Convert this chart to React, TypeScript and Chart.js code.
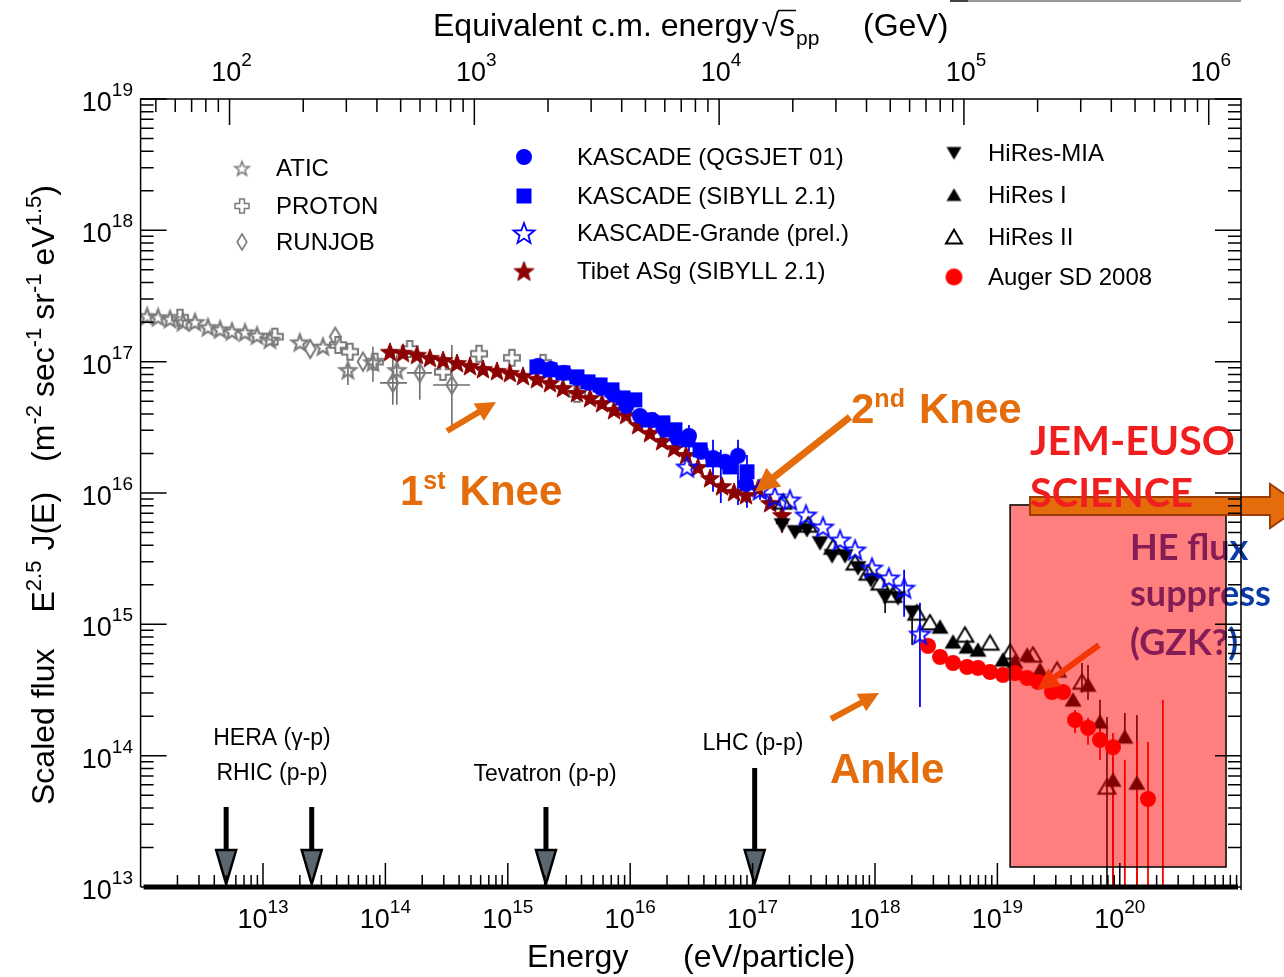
import React, { useEffect, useRef } from "react";
import { Chart, registerables } from "chart.js";

Chart.register(...registerables);

const W = 1284;
const H = 977;

// ---------- axis settings ----------
const energyMin = 1e12;
const energyMax = 9.78e20;
const fluxMin = 1e13;
const fluxMax = 1e19;
const protonMassGeV = 0.938272;
const bottomTickExps = [13, 14, 15, 16, 17, 18, 19, 20];
const leftTickExps = [13, 14, 15, 16, 17, 18, 19];
const topTickExps = [2, 3, 4, 5, 6];

// ---------- data (E in eV, scaled flux E^2.5 J(E)) ----------
const aticE = [1.13e12, 1.39e12, 1.74e12, 2.22e12, 2.78e12, 3.55e12, 4.46e12, 5.58e12, 7.13e12, 8.94e12, 1.14e13, 2.0e13, 3.09e13, 4.94e13, 7.91e13, 1.24e14];
const aticF = [2.23e17, 2.19e17, 2.12e17, 2.01e17, 2.01e17, 1.84e17, 1.77e17, 1.71e17, 1.68e17, 1.59e17, 1.48e17, 1.41e17, 1.31e17, 8.67e16, 9.95e16, 8.67e16];
const aticErr = [[4.94e13, 6.65e16, 9.47e16], [7.91e13, 7.02e16, 1.3e17], [1.24e14, 4.69e16, 1.13e17]];

const protonE = [2.1e12, 1.25e13, 4.1e13, 5.14e13, 8.2e13, 1.58e14, 2.95e14, 5.82e14, 1.08e15, 1.94e15, 3.68e15];
const protonF = [2.16e17, 1.55e17, 1.34e17, 1.19e17, 1.0e17, 1.25e17, 8.36e16, 1.15e17, 1.07e17, 9.8e16, 5.69e16];

const runjobE = [2.43e13, 3.89e13, 6.56e13, 1.15e14, 1.91e14, 3.49e14];
const runjobF = [1.25e17, 1.55e17, 1.0e17, 6.89e16, 8.22e16, 6.65e16];
const runjobErr = [[1.15e14, 4.69e16, 1.13e17], [1.91e14, 5.12e16, 1.07e17], [3.49e14, 3.03e16, 1.34e17]];
const runjobXErr = [[6.89e16, 9.04e13, 1.5e14], [8.22e16, 1.5e14, 2.4e14], [6.65e16, 2.45e14, 4.91e14]];

const tibetE = [1.09e14, 1.39e14, 1.81e14, 2.31e14, 2.96e14, 3.85e14, 4.91e14, 6.27e14, 8.16e14, 1.04e15, 1.33e15, 1.73e15, 2.21e15, 2.82e15, 3.67e15, 4.7e15, 5.89e15, 7.38e15, 9.25e15, 1.16e16, 1.45e16, 1.82e16, 2.28e16, 2.86e16, 3.58e16, 4.49e16, 5.62e16, 7.05e16, 8.83e16, 1.11e17, 1.39e17, 1.74e17];
const tibetF = [1.19e17, 1.17e17, 1.13e17, 1.07e17, 1.03e17, 9.79e16, 9.29e16, 8.81e16, 8.51e16, 8.22e16, 7.8e16, 7.4e16, 6.9e16, 6.31e16, 5.78e16, 5.3e16, 4.85e16, 4.29e16, 3.94e16, 3.3e16, 2.87e16, 2.49e16, 2.2e16, 1.95e16, 1.58e16, 1.3e16, 1.13e16, 1.02e16, 9.68e15, 1.09e16, 8.41e15, 6.81e15];
const tibetErr = [[1.74e17, 4.97e15, 7.84e15], [8.83e16, 8.4e15, 1.1e16]];

const kascadeQgsE = [1.77e15, 2.25e15, 2.88e15, 3.67e15, 4.6e15, 5.8e15, 7.3e15, 9.3e15, 1.2e16, 1.51e16, 1.92e16, 2.41e16, 3.02e16, 3.79e16, 4.75e16, 5.96e16, 7.6e16, 8.83e16];
const kascadeQgsF = [9.29e16, 8.81e16, 8.22e16, 7.5e16, 6.9e16, 6.3e16, 5.6e16, 4.6e16, 3.87e16, 3.6e16, 3.03e16, 2.63e16, 2.72e16, 2.06e16, 1.85e16, 1.73e16, 1.92e16, 1.17e16];
const kascadeQgsErr = [[3.02e16, 2.06e16, 3.3e16], [4.75e16, 1.02e16, 2.54e16], [7.6e16, 8.11e15, 2.54e16]];

const kascadeSibE = [1.73e15, 2.21e15, 2.82e15, 3.67e15, 4.52e15, 5.67e15, 7.1e15, 8.73e15, 1.09e16, 1.4e16, 1.85e16, 2.32e16, 2.97e16, 3.72e16, 4.75e16, 6.53e16, 9.0e16];
const kascadeSibF = [9.12e16, 8.66e16, 8.22e16, 7.66e16, 7.02e16, 6.65e16, 6.1e16, 5.3e16, 5.12e16, 3.6e16, 3.42e16, 3.03e16, 2.54e16, 2.13e16, 1.79e16, 1.58e16, 1.45e16];
const kascadeSibErr = [[9.0e16, 7.71e15, 1.95e16], [5.5e16, 8.41e15, 2.13e16]];

const grandeE = [2.91e16, 1.15e17, 1.52e17, 2.02e17, 2.73e17, 3.76e17, 5.18e17, 6.87e17, 9.45e17, 1.3e18, 1.73e18, 2.33e18];
const grandeF = [1.58e16, 1.06e16, 9.34e15, 8.86e15, 6.81e15, 5.52e15, 4.39e15, 3.69e15, 2.69e15, 2.26e15, 1.89e15, 8.45e14];
const grandeErr = [[2.33e18, 2.35e14, 1.46e15], [1.73e18, 1.14e15, 2.6e15], [1.15e17, 8.9e15, 1.2e16]];

const hiresMiaE = [1.74e17, 2.22e17, 2.78e17, 3.56e17, 4.46e17, 5.69e17, 7.26e17, 9.27e17, 1.21e18, 1.54e18, 2.01e18];
const hiresMiaF = [5.71e15, 5.06e15, 5.24e15, 4.17e15, 3.32e15, 3.32e15, 2.69e15, 2.18e15, 1.62e15, 1.59e15, 1.24e15];
const hiresMiaErr = [[1.21e18, 1.22e15, 1.83e15], [2.01e18, 6.97e14, 1.33e15]];

const hires1E = [3.4e18, 4.34e18, 5.65e18, 6.94e18, 1.11e19, 1.39e19, 1.75e19, 2.23e19, 4.15e19, 5.5e19, 6.89e19, 8.8e19, 1.1e20, 1.38e20];
const hires1F = [9.55e14, 7.35e14, 6.73e14, 6.38e14, 5.36e14, 5.2e14, 5.85e14, 4.5e14, 2.66e14, 3.45e14, 1.81e14, 6.53e13, 1.39e14, 6.19e13];
const hires1Err = [[5.5e19, 2.66e14, 4.91e14], [6.89e19, 1.25e14, 2.66e14], [8.8e19, 1e12, 9.78e13], [1.1e20, 1.27e14, 2.11e14], [1.38e20, 1e12, 2.04e14]];

const hires2E = [1.77e17, 2.84e17, 4.54e17, 6.87e17, 8.77e17, 1.1e18, 1.4e18, 2.2e18, 2.81e18, 5.43e18, 8.71e18, 1.27e19, 1.95e19, 3.07e19, 4.91e19, 7.86e19];
const hires2F = [8.55e15, 5.71e15, 3.88e15, 2.94e15, 2.46e15, 2.07e15, 1.67e15, 1.22e15, 1.03e15, 8.3e14, 7.21e14, 6.16e14, 5.85e14, 4.5e14, 3.64e14, 5.78e13];
const hires2Err = [[4.91e19, 3.01e14, 5.08e14], [7.86e19, 1e12, 1.97e14]];

const augerE = [2.71e18, 3.4e18, 4.34e18, 5.65e18, 6.94e18, 8.71e18, 1.11e19, 1.39e19, 1.75e19, 2.15e19, 2.79e19, 3.44e19, 4.31e19, 5.5e19, 6.89e19, 8.8e19, 1.7e20];
const augerF = [6.85e14, 5.65e14, 5.08e14, 4.74e14, 4.66e14, 4.34e14, 4.12e14, 4.26e14, 3.91e14, 3.64e14, 3.05e14, 3.05e14, 1.87e14, 1.63e14, 1.32e14, 1.16e14, 4.68e13];
const augerErr = [[4.31e19, 1.49e14, 2.23e14], [5.5e19, 1.21e14, 1.94e14], [6.89e19, 9.27e13, 1.63e14], [8.8e19, 1e12, 1.49e14], [1.7e20, 1e12, 1.27e14]];
const augerUpper = [[1.1e20, 9.3e13], [1.38e20, 1.3e14], [2.25e20, 2.66e14]];

// colliders (fixed-target equivalent energy, eV)
const colliderE = [5.0e12, 2.5e13, 2.05e15, 1.04e17];
const colliderTop = [807, 807, 807, 768];
const colliderLabels = [
  { t: "HERA (\u03b3-p)", x: 272, y: 739 },
  { t: "RHIC (p-p)", x: 272, y: 774 },
  { t: "Tevatron (p-p)", x: 545, y: 775 },
  { t: "LHC (p-p)", x: 753, y: 744 },
];

// JEM-EUSO highlighted region (data coords)
const gzkBoxE = [1.27e19, 7.38e20];
const gzkBoxF = [1.42e13, 8.11e15];

const FONT = "'Liberation Sans', Arial, Helvetica, sans-serif";
const CAL = "Lato, 'Open Sans', 'Noto Sans', sans-serif";
const ORANGE = "#E46C0A";

function sqrtS(eV: number) {
  return Math.sqrt(2 * protonMassGeV * (eV / 1e9));
}

function marker(kind: string, size: number, stroke: string | null, fill: string | null, lw = 2) {
  const pad = Math.ceil(lw) + 2;
  const d = Math.ceil(size + pad * 2);
  const c = document.createElement("canvas");
  c.width = d;
  c.height = d;
  const g = c.getContext("2d")!;
  const cx = d / 2;
  const cy = d / 2;
  const r = size / 2;
  g.beginPath();
  if (kind === "star") {
    for (let i = 0; i < 10; i++) {
      const a = -Math.PI / 2 + (i * Math.PI) / 5;
      const rr = i % 2 === 0 ? r : r * 0.42;
      const x = cx + rr * Math.cos(a);
      const y = cy + 1 + rr * Math.sin(a);
      if (i === 0) g.moveTo(x, y);
      else g.lineTo(x, y);
    }
    g.closePath();
  } else if (kind === "circle") {
    g.arc(cx, cy, r, 0, Math.PI * 2);
  } else if (kind === "square") {
    g.rect(cx - r, cy - r, 2 * r, 2 * r);
  } else if (kind === "triUp") {
    g.moveTo(cx, cy - r * 0.9);
    g.lineTo(cx + r, cy + r * 0.8);
    g.lineTo(cx - r, cy + r * 0.8);
    g.closePath();
  } else if (kind === "triDown") {
    g.moveTo(cx, cy + r * 0.9);
    g.lineTo(cx + r, cy - r * 0.8);
    g.lineTo(cx - r, cy - r * 0.8);
    g.closePath();
  } else if (kind === "diamond") {
    g.moveTo(cx, cy - r);
    g.lineTo(cx + r * 0.6, cy);
    g.lineTo(cx, cy + r);
    g.lineTo(cx - r * 0.6, cy);
    g.closePath();
  } else if (kind === "cross") {
    const a = r * 0.34;
    const pts = [[-a, -r], [a, -r], [a, -a], [r, -a], [r, a], [a, a], [a, r], [-a, r], [-a, a], [-r, a], [-r, -a], [-a, -a]];
    pts.forEach((p, i) => (i === 0 ? g.moveTo(cx + p[0], cy + p[1]) : g.lineTo(cx + p[0], cy + p[1])));
    g.closePath();
  }
  if (fill) {
    g.fillStyle = fill;
    g.fill();
  }
  if (stroke) {
    g.lineWidth = lw;
    g.strokeStyle = stroke;
    g.lineJoin = "miter";
    g.stroke();
  }
  return c;
}

function fatArrow(ctx: CanvasRenderingContext2D, x1: number, y1: number, x2: number, y2: number, shaft: number, headL: number, headW: number, fill: string, stroke?: string) {
  const ang = Math.atan2(y2 - y1, x2 - x1);
  const len = Math.hypot(x2 - x1, y2 - y1);
  ctx.save();
  ctx.translate(x1, y1);
  ctx.rotate(ang);
  ctx.beginPath();
  ctx.moveTo(0, -shaft / 2);
  ctx.lineTo(len - headL, -shaft / 2);
  ctx.lineTo(len - headL, -headW / 2);
  ctx.lineTo(len, 0);
  ctx.lineTo(len - headL, headW / 2);
  ctx.lineTo(len - headL, shaft / 2);
  ctx.lineTo(0, shaft / 2);
  ctx.closePath();
  ctx.fillStyle = fill;
  ctx.fill();
  if (stroke) {
    ctx.strokeStyle = stroke;
    ctx.lineWidth = 1.5;
    ctx.stroke();
  }
  ctx.restore();
}

type Part = { t?: string; s?: number; dy?: number; gap?: number; bold?: boolean };
function drawParts(ctx: CanvasRenderingContext2D, parts: Part[], x: number, y: number, family = FONT) {
  let cx = x;
  for (const p of parts) {
    if (p.gap) {
      cx += p.gap;
      continue;
    }
    ctx.font = `${p.bold ? "bold " : ""}${p.s}px ${family}`;
    ctx.fillText(p.t || "", cx, y + (p.dy || 0));
    cx += ctx.measureText(p.t || "").width;
  }
  return cx;
}
function partsWidth(ctx: CanvasRenderingContext2D, parts: Part[], family = FONT) {
  let w = 0;
  for (const p of parts) {
    if (p.gap) {
      w += p.gap;
      continue;
    }
    ctx.font = `${p.bold ? "bold " : ""}${p.s}px ${family}`;
    w += ctx.measureText(p.t || "").width;
  }
  return w;
}

const sup = (n: number): Part[] => [
  { t: "10", s: 27 },
  { t: String(n), s: 19, dy: -15 },
];

export default function App() {
  const ref = useRef<HTMLCanvasElement>(null);

  useEffect(() => {
    document.body.style.margin = "0";
    const canvas = ref.current!;
    const GREY = "#7a7a7a";

    const mk = {
      atic: marker("star", 17, GREY, null, 2.2),
      proton: marker("cross", 16, GREY, null, 2),
      runjob: marker("diamond", 18, GREY, null, 2),
      tibet: marker("star", 20, "#8B0000", "#8B0000", 1),
      qgs: marker("circle", 16, null, "#0000FF"),
      sib: marker("square", 15, null, "#0000FF"),
      grande: marker("star", 21, "#0000FF", null, 1.8),
      mia: marker("triDown", 17, null, "#000000"),
      hires1: marker("triUp", 17, null, "#000000"),
      hires2: marker("triUp", 17, "#000000", null, 2),
      auger: marker("circle", 16, null, "#FF0000"),
    };
    const lg = {
      atic: marker("star", 15, GREY, null, 1.6),
      proton: marker("cross", 14, GREY, null, 1.5),
      runjob: marker("diamond", 16, GREY, null, 1.6),
      qgs: marker("circle", 16, null, "#0000FF"),
      sib: marker("square", 15, null, "#0000FF"),
      grande: marker("star", 22, "#0000FF", null, 1.8),
      tibet: marker("star", 21, "#8B0000", "#8B0000", 1),
      mia: marker("triDown", 15, null, "#000000"),
      hires1: marker("triUp", 15, null, "#000000"),
      hires2: marker("triUp", 16, "#000000", null, 2),
      auger: marker("circle", 17, null, "#FF0000"),
    };

    const pts = (E: number[], F: number[]) => E.map((e, i) => ({ x: e, y: F[i] }));
    const drawOrder = [
      { label: "ATIC", E: aticE, F: aticF, m: mk.atic },
      { label: "PROTON", E: protonE, F: protonF, m: mk.proton },
      { label: "RUNJOB", E: runjobE, F: runjobF, m: mk.runjob },
      { label: "Tibet ASg (SIBYLL 2.1)", E: tibetE, F: tibetF, m: mk.tibet },
      { label: "KASCADE (SIBYLL 2.1)", E: kascadeSibE, F: kascadeSibF, m: mk.sib },
      { label: "KASCADE (QGSJET 01)", E: kascadeQgsE, F: kascadeQgsF, m: mk.qgs },
      { label: "HiRes-MIA", E: hiresMiaE, F: hiresMiaF, m: mk.mia },
      { label: "HiRes I", E: hires1E, F: hires1F, m: mk.hires1 },
      { label: "HiRes II", E: hires2E, F: hires2F, m: mk.hires2 },
      { label: "Auger SD 2008", E: augerE, F: augerF, m: mk.auger },
      { label: "KASCADE-Grande (prel.)", E: grandeE, F: grandeF, m: mk.grande },
    ];
    const datasets = drawOrder.map((d, i) => ({
      label: d.label,
      data: pts(d.E, d.F),
      pointStyle: d.m,
      pointRadius: 6,
      showLine: false,
      order: drawOrder.length - i,
    }));

    const errorSets = [
      { color: "#6e6e6e", lw: 1.6, v: aticErr, h: [] as number[][] },
      { color: "#6e6e6e", lw: 1.6, v: runjobErr, h: runjobXErr },
      { color: "#8B0000", lw: 1.6, v: tibetErr, h: [] },
      { color: "#0000FF", lw: 1.8, v: kascadeQgsErr, h: [] },
      { color: "#0000FF", lw: 1.8, v: kascadeSibErr, h: [] },
      { color: "#0000FF", lw: 1.8, v: grandeErr, h: [] },
      { color: "#000000", lw: 1.6, v: hiresMiaErr, h: [] },
      { color: "#000000", lw: 1.6, v: hires1Err, h: [] },
      { color: "#000000", lw: 1.6, v: hires2Err, h: [] },
      { color: "#FF0000", lw: 1.8, v: augerErr, h: [] },
      { color: "#FF0000", lw: 1.8, v: augerUpper.map((u) => [u[0], 1e12, u[1]]), h: [] },
    ];

    const legendItems = [
      { m: lg.atic, t: "ATIC", x: 242, tx: 276, y: 168 },
      { m: lg.proton, t: "PROTON", x: 242, tx: 276, y: 206 },
      { m: lg.runjob, t: "RUNJOB", x: 242, tx: 276, y: 242 },
      { m: lg.qgs, t: "KASCADE (QGSJET 01)", x: 524, tx: 577, y: 157 },
      { m: lg.sib, t: "KASCADE (SIBYLL 2.1)", x: 524, tx: 577, y: 196 },
      { m: lg.grande, t: "KASCADE-Grande (prel.)", x: 524, tx: 577, y: 233 },
      { m: lg.tibet, t: "Tibet ASg (SIBYLL 2.1)", x: 524, tx: 577, y: 271 },
      { m: lg.mia, t: "HiRes-MIA", x: 954, tx: 988, y: 153 },
      { m: lg.hires1, t: "HiRes I", x: 954, tx: 988, y: 195 },
      { m: lg.hires2, t: "HiRes II", x: 954, tx: 988, y: 237 },
      { m: lg.auger, t: "Auger SD 2008", x: 954, tx: 988, y: 277 },
    ];

    const overlay = {
      id: "overlay",
      beforeDatasetsDraw(chart: any) {
        const { ctx, chartArea: a, scales } = chart;
        const xs = scales.x;
        const ys = scales.y;
        ctx.save();
        ctx.beginPath();
        ctx.rect(a.left, a.top, a.right - a.left, a.bottom - a.top);
        ctx.clip();
        for (const es of errorSets) {
          ctx.strokeStyle = es.color;
          ctx.lineWidth = es.lw;
          for (const [e, lo, hi] of es.v) {
            const x = xs.getPixelForValue(e);
            ctx.beginPath();
            ctx.moveTo(x, ys.getPixelForValue(lo));
            ctx.lineTo(x, ys.getPixelForValue(hi));
            ctx.stroke();
          }
          for (const [f, elo, ehi] of es.h) {
            const y = ys.getPixelForValue(f);
            ctx.beginPath();
            ctx.moveTo(xs.getPixelForValue(elo), y);
            ctx.lineTo(xs.getPixelForValue(ehi), y);
            ctx.stroke();
          }
        }
        ctx.restore();
      },
      afterDatasetsDraw(chart: any) {
        const { ctx, chartArea: a, scales } = chart;
        const xs = scales.x;
        const ys = scales.y;
        const x2 = scales.x2;
        ctx.save();

        // GZK pointer and text under the translucent box
        fatArrow(ctx, 1099, 645, 1037, 690, 6, 22, 22, ORANGE);
        ctx.fillStyle = "#0A3AA8";
        ctx.textBaseline = "alphabetic";
        ctx.textAlign = "left";
        ctx.font = `bold 36px ${CAL}`;
        ctx.fillText("HE flux", 1130, 560);
        ctx.fillText("suppress", 1130, 606);
        ctx.fillText("(GZK?)", 1130, 655);

        // JEM-EUSO region box
        const bx1 = xs.getPixelForValue(gzkBoxE[0]);
        const bx2 = xs.getPixelForValue(gzkBoxE[1]);
        const by1 = ys.getPixelForValue(gzkBoxF[1]);
        const by2 = ys.getPixelForValue(gzkBoxF[0]);
        ctx.fillStyle = "rgba(255,0,0,0.5)";
        ctx.fillRect(bx1, by1, bx2 - bx1, by2 - by1);
        ctx.strokeStyle = "#000";
        ctx.lineWidth = 1.5;
        ctx.strokeRect(bx1, by1, bx2 - bx1, by2 - by1);

        // JEM-EUSO arrow
        ctx.beginPath();
        ctx.moveTo(1030, 497);
        ctx.lineTo(1270, 497);
        ctx.lineTo(1270, 484);
        ctx.lineTo(1302, 506);
        ctx.lineTo(1270, 528);
        ctx.lineTo(1270, 515);
        ctx.lineTo(1030, 515);
        ctx.closePath();
        ctx.fillStyle = ORANGE;
        ctx.fill();
        ctx.strokeStyle = "#9C3D06";
        ctx.lineWidth = 2;
        ctx.stroke();
        ctx.fillStyle = "#F01E1E";
        ctx.font = `bold 41px ${CAL}`;
        ctx.fillText("JEM-EUSO", 1030, 455, 205);
        ctx.fillText("SCIENCE", 1030, 507, 163);

        // knee / ankle annotations
        fatArrow(ctx, 447, 431, 496, 402, 6, 20, 20, ORANGE);
        fatArrow(ctx, 850, 417, 755, 492, 7, 24, 24, ORANGE);
        fatArrow(ctx, 831, 719, 879, 693, 6, 20, 20, ORANGE);
        ctx.fillStyle = ORANGE;
        drawParts(ctx, [{ t: "1", s: 42, bold: true }, { t: "st", s: 25, dy: -16, bold: true }, { gap: 14 }, { t: "Knee", s: 42, bold: true }], 400, 505);
        drawParts(ctx, [{ t: "2", s: 42, bold: true }, { t: "nd", s: 25, dy: -16, bold: true }, { gap: 14 }, { t: "Knee", s: 42, bold: true }], 851, 423);
        drawParts(ctx, [{ t: "Ankle", s: 42, bold: true }], 830, 783);

        // collider arrows
        colliderE.forEach((e, i) => {
          const x = xs.getPixelForValue(e);
          ctx.strokeStyle = "#000";
          ctx.lineWidth = 5;
          ctx.beginPath();
          ctx.moveTo(x, colliderTop[i]);
          ctx.lineTo(x, 852);
          ctx.stroke();
          ctx.beginPath();
          ctx.moveTo(x - 10, 850);
          ctx.lineTo(x + 10, 850);
          ctx.lineTo(x, 884);
          ctx.closePath();
          ctx.fillStyle = "#5A6670";
          ctx.fill();
          ctx.lineWidth = 2.5;
          ctx.stroke();
        });
        ctx.fillStyle = "#000";
        ctx.font = `23px ${FONT}`;
        ctx.textAlign = "center";
        ctx.textBaseline = "middle";
        colliderLabels.forEach((c) => ctx.fillText(c.t, c.x, c.y));

        // frame
        ctx.strokeStyle = "#000";
        ctx.lineWidth = 1.5;
        ctx.beginPath();
        ctx.moveTo(a.left, a.bottom);
        ctx.lineTo(a.left, a.top);
        ctx.lineTo(a.right, a.top);
        ctx.lineTo(a.right, a.bottom + 3);
        ctx.stroke();
        ctx.lineWidth = 5;
        ctx.beginPath();
        ctx.moveTo(a.left + 3, a.bottom);
        ctx.lineTo(a.right - 3, a.bottom);
        ctx.stroke();

        // ticks
        ctx.lineWidth = 1.5;
        ctx.beginPath();
        for (let ex = 13; ex <= 19; ex++) {
          for (let m = 1; m <= 9; m++) {
            const v = m * Math.pow(10, ex);
            if (v > fluxMax * 1.0001) break;
            const y = ys.getPixelForValue(v);
            const L = m === 1 ? 26 : 13;
            ctx.moveTo(a.left, y);
            ctx.lineTo(a.left + L, y);
            ctx.moveTo(a.right, y);
            ctx.lineTo(a.right - L, y);
          }
        }
        for (let ex = 12; ex <= 20; ex++) {
          for (let m = 1; m <= 9; m++) {
            const v = m * Math.pow(10, ex);
            if (v <= energyMin * 1.0001 || v >= energyMax) continue;
            const x = xs.getPixelForValue(v);
            const L = m === 1 ? 24 : 12;
            ctx.moveTo(x, a.bottom);
            ctx.lineTo(x, a.bottom - L);
          }
        }
        const smin = sqrtS(energyMin);
        const smax = sqrtS(energyMax);
        for (let ex = 1; ex <= 6; ex++) {
          for (let m = 1; m <= 9; m++) {
            const v = m * Math.pow(10, ex);
            if (v <= smin || v >= smax) continue;
            const x = x2.getPixelForValue(v);
            const L = m === 1 ? 26 : 13;
            ctx.moveTo(x, a.top);
            ctx.lineTo(x, a.top + L);
          }
        }
        ctx.stroke();

        // tick labels
        ctx.fillStyle = "#000";
        ctx.textAlign = "left";
        ctx.textBaseline = "alphabetic";
        bottomTickExps.forEach((ex) => {
          const x = xs.getPixelForValue(Math.pow(10, ex));
          const p = sup(ex);
          const w = partsWidth(ctx, p);
          drawParts(ctx, p, x - w / 2, 928);
        });
        leftTickExps.forEach((ex) => {
          const y = ys.getPixelForValue(Math.pow(10, ex));
          const p = sup(ex);
          const w = partsWidth(ctx, p);
          drawParts(ctx, p, 133 - w, y + 12);
        });
        topTickExps.forEach((ex) => {
          const x = x2.getPixelForValue(Math.pow(10, ex));
          const p = sup(ex);
          const w = partsWidth(ctx, p);
          drawParts(ctx, p, x - w / 2 + 2, 81);
        });

        // axis titles
        ctx.font = `32px ${FONT}`;
        ctx.fillText("Energy", 527, 967);
        ctx.fillText("(eV/particle)", 683, 967);

        const endX = drawParts(ctx, [{ t: "Equivalent c.m. energy", s: 32 }], 433, 36);
        ctx.font = `32px ${FONT}`;
        const rx = endX + 3;
        ctx.fillText("\u221a", rx, 36);
        const rw = ctx.measureText("\u221a").width;
        const rtop = 36 - ctx.measureText("\u221a").actualBoundingBoxAscent;
        const sx = rx + rw;
        ctx.fillText("s", sx, 36);
        const sw = ctx.measureText("s").width;
        ctx.lineWidth = 1.5;
        ctx.beginPath();
        ctx.moveTo(sx - 1, rtop + 0.5);
        ctx.lineTo(sx + sw + 1, rtop + 0.5);
        ctx.stroke();
        ctx.font = `21px ${FONT}`;
        ctx.fillText("pp", sx + sw + 1, 45);
        ctx.font = `32px ${FONT}`;
        ctx.fillText("(GeV)", 863, 36);

        ctx.save();
        ctx.translate(54, 805);
        ctx.rotate(-Math.PI / 2);
        drawParts(ctx, [
          { t: "Scaled flux", s: 32 },
          { gap: 36 },
          { t: "E", s: 32 },
          { t: "2.5", s: 22, dy: -13 },
          { gap: 10 },
          { t: "J(E)", s: 32 },
          { gap: 30 },
          { t: "(m", s: 32 },
          { t: "-2", s: 22, dy: -13 },
          { gap: 8 },
          { t: "sec", s: 32 },
          { t: "-1", s: 22, dy: -13 },
          { gap: 8 },
          { t: "sr", s: 32 },
          { t: "-1", s: 22, dy: -13 },
          { gap: 8 },
          { t: "eV", s: 32 },
          { t: "1.5", s: 22, dy: -13 },
          { t: ")", s: 32 },
        ], 0, 0);
        ctx.restore();

        // legend
        ctx.font = `24px ${FONT}`;
        ctx.textBaseline = "middle";
        legendItems.forEach((it) => {
          ctx.drawImage(it.m, it.x - it.m.width / 2, it.y - it.m.height / 2);
          ctx.fillStyle = "#000";
          ctx.fillText(it.t, it.tx, it.y + 1);
        });

        // cropped box edge at top-right
        ctx.fillStyle = "#9a9a9a";
        ctx.fillRect(950, 0, 291, 2);
        ctx.fillStyle = "#444";
        ctx.fillRect(950, 0, 18, 2);

        ctx.restore();
      },
    };

    const chart = new Chart(canvas, {
      type: "scatter",
      data: { datasets: datasets as any },
      options: {
        animation: false,
        responsive: false,
        events: [],
        layout: { padding: { left: 140.6, right: 43, top: 99, bottom: 90 } },
        plugins: { legend: { display: false }, tooltip: { enabled: false } },
        scales: {
          x: { type: "logarithmic", min: energyMin, max: energyMax, display: false, bounds: "data" },
          x2: { type: "logarithmic", position: "top", min: sqrtS(energyMin), max: sqrtS(energyMax), display: false, bounds: "data" },
          y: { type: "logarithmic", min: fluxMin, max: fluxMax, display: false, bounds: "data" },
        },
      } as any,
      plugins: [overlay as any],
    });
    return () => chart.destroy();
  }, []);

  return (
    <canvas
      ref={ref}
      width={W}
      height={H}
      style={{ display: "block", width: W, height: H, background: "#fff" }}
    />
  );
}
